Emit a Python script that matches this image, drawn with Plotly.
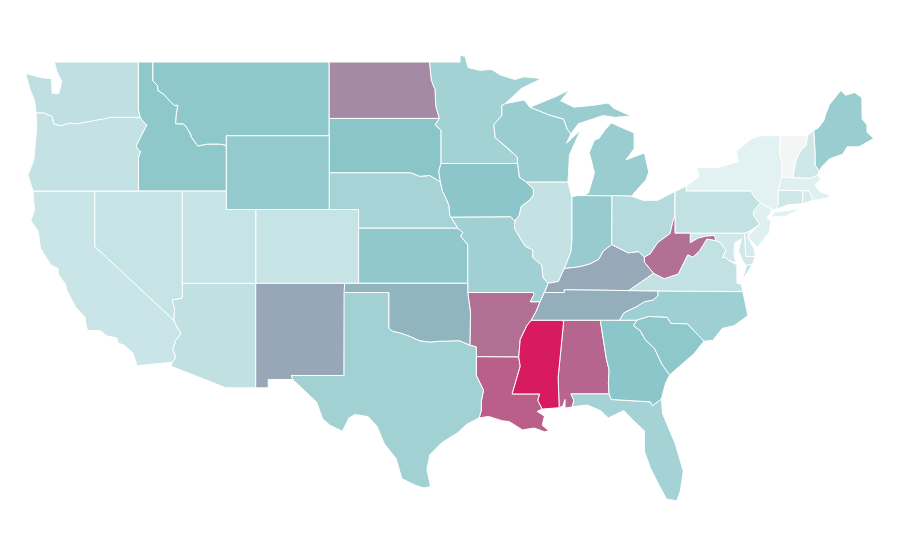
import plotly.graph_objects as go
from plotly.colors import sample_colorscale

# state codes and values
states = ['AL', 'AR', 'AZ', 'CA', 'CO', 'CT', 'DC', 'DE', 'FL', 'GA', 'IA', 'ID', 'IL', 'IN', 'KS', 'KY',
          'LA', 'MA', 'MD', 'ME', 'MI', 'MN', 'MO', 'MS', 'MT', 'NC', 'ND', 'NE', 'NH', 'NJ', 'NM', 'NV',
          'NY', 'OH', 'OK', 'OR', 'PA', 'RI', 'SC', 'SD', 'TN', 'TX', 'UT', 'VA', 'VT', 'WA', 'WI', 'WV', 'WY']
values = [74, 70.5, 18.5, 14.5, 16, 13, 12, 10, 29.5, 39.5, 39, 38, 17, 35, 37.5, 50,
          76, 6, 12, 34, 34, 30, 31, 100, 38, 32, 61, 28.5, 13, 6, 50.5, 16,
          5, 23, 45.5, 17, 18, 10, 38, 40, 48, 30.5, 16, 18, 0, 19, 34, 70, 36]

scale = [[0, '#f4f6f6'], [0.05, '#e2f1f2'], [0.4, '#8ac5c9'], [1, '#d81b60']]

# rough state outlines in lon/lat, no map file can be fetched offline (None starts another part)
outlines = {
    'WA': [(-124.0,46.25),(-124.1,46.9),(-124.4,47.5),(-124.72,48.38),(-123.6,48.15),(-122.95,48.1),(-122.9,47.3),(-122.45,47.3),(-122.25,47.95),(-122.6,48.5),(-122.75,49.0),(-117.04,49.0),(-117.04,46.42),(-116.92,46.0),(-119.0,46.0),(-119.3,45.93),(-119.9,45.85),(-120.6,45.75),(-121.2,45.65),(-121.7,45.7),(-122.3,45.55),(-122.8,45.65),(-122.9,46.05),(-123.2,46.15),(-123.5,46.25)],
    'OR': [(-124.2,42.0),(-124.55,42.85),(-124.15,43.7),(-124.05,44.7),(-123.95,45.5),(-124.0,46.25),(-123.5,46.25),(-123.2,46.15),(-122.9,46.05),(-122.8,45.65),(-122.3,45.55),(-121.7,45.7),(-121.2,45.65),(-120.6,45.75),(-119.9,45.85),(-119.3,45.93),(-119.0,46.0),(-116.92,46.0),(-116.7,45.75),(-116.46,45.6),(-116.67,45.25),(-116.85,45.0),(-117.2,44.45),(-117.05,44.25),(-116.9,44.15),(-117.03,43.83),(-117.03,42.0)],
    'CA': [(-124.2,42.0),(-120.0,42.0),(-120.0,39.0),(-114.63,35.0),(-114.45,34.7),(-114.15,34.27),(-114.5,33.9),(-114.7,33.4),(-114.5,33.0),(-114.72,32.72),(-117.12,32.53),(-117.25,32.85),(-117.4,33.2),(-118.0,33.65),(-118.4,33.75),(-118.5,34.03),(-119.2,34.15),(-119.6,34.42),(-120.5,34.45),(-120.65,34.9),(-120.65,35.15),(-121.3,35.7),(-121.9,36.6),(-122.0,36.95),(-122.5,37.5),(-122.5,37.8),(-123.0,38.0),(-123.7,38.9),(-123.85,39.8),(-124.35,40.4),(-124.1,41.0),(-124.2,41.75)],
    'NV': [(-120.0,42.0),(-114.05,42.0),(-114.05,36.2),(-114.75,36.1),(-114.57,35.6),(-114.63,35.0),(-120.0,39.0)],
    'ID': [(-117.04,49.0),(-116.05,49.0),(-116.05,48.0),(-115.72,47.7),(-115.7,47.45),(-115.3,47.25),(-114.95,46.93),(-114.6,46.65),(-114.35,46.65),(-114.45,46.2),(-114.5,45.65),(-114.0,45.65),(-113.8,45.52),(-113.45,45.05),(-113.45,44.95),(-113.0,44.45),(-112.3,44.55),(-111.5,44.55),(-111.05,44.48),(-111.05,42.0),(-117.03,42.0),(-117.03,43.83),(-116.9,44.15),(-117.05,44.25),(-117.2,44.45),(-116.85,45.0),(-116.67,45.25),(-116.46,45.6),(-116.7,45.75),(-116.92,46.0),(-117.04,46.42)],
    'MT': [(-116.05,49.0),(-104.05,49.0),(-104.05,45.0),(-111.05,45.0),(-111.05,44.48),(-111.5,44.55),(-112.3,44.55),(-113.0,44.45),(-113.45,44.95),(-113.45,45.05),(-113.8,45.52),(-114.0,45.65),(-114.5,45.65),(-114.45,46.2),(-114.35,46.65),(-114.6,46.65),(-114.95,46.93),(-115.3,47.25),(-115.7,47.45),(-115.72,47.7),(-116.05,48.0)],
    'WY': [(-111.05,45.0),(-104.05,45.0),(-104.05,41.0),(-111.05,41.0)],
    'UT': [(-114.05,42.0),(-111.05,42.0),(-111.05,41.0),(-109.05,41.0),(-109.05,37.0),(-114.05,37.0)],
    'CO': [(-109.05,41.0),(-102.05,41.0),(-102.05,37.0),(-109.05,37.0)],
    'AZ': [(-114.05,37.0),(-109.05,37.0),(-109.05,31.33),(-111.07,31.33),(-114.81,32.5),(-114.72,32.72),(-114.5,33.0),(-114.7,33.4),(-114.5,33.9),(-114.15,34.27),(-114.45,34.7),(-114.63,35.0),(-114.57,35.6),(-114.75,36.1),(-114.05,36.2)],
    'NM': [(-109.05,37.0),(-103.0,37.0),(-103.04,32.0),(-106.62,32.0),(-106.53,31.78),(-108.2,31.78),(-108.2,31.33),(-109.05,31.33)],
    'ND': [(-104.05,49.0),(-97.23,49.0),(-97.1,48.0),(-96.85,47.5),(-96.8,46.6),(-96.56,45.94),(-104.05,45.94)],
    'SD': [(-104.05,45.94),(-96.56,45.94),(-96.85,45.6),(-96.45,45.3),(-96.45,43.5),(-96.6,43.1),(-96.5,42.5),(-97.2,42.85),(-97.9,42.8),(-98.5,43.0),(-104.05,43.0)],
    'NE': [(-104.05,43.0),(-98.5,43.0),(-97.9,42.8),(-97.2,42.85),(-96.5,42.5),(-96.35,42.0),(-96.1,41.6),(-95.9,41.2),(-95.85,40.7),(-95.77,40.58),(-95.3,40.0),(-102.05,40.0),(-102.05,41.0),(-104.05,41.0)],
    'KS': [(-102.05,40.0),(-95.3,40.0),(-94.95,39.75),(-95.1,39.55),(-94.62,39.1),(-94.62,37.0),(-102.05,37.0)],
    'OK': [(-103.0,37.0),(-94.62,37.0),(-94.62,36.5),(-94.43,35.4),(-94.48,33.64),(-95.2,33.88),(-96.0,33.85),(-96.6,33.85),(-97.2,33.8),(-97.9,33.88),(-98.5,34.1),(-99.2,34.3),(-99.7,34.38),(-100.0,34.56),(-100.0,36.5),(-103.04,36.5)],
    'TX': [(-103.04,36.5),(-100.0,36.5),(-100.0,34.56),(-99.7,34.38),(-99.2,34.3),(-98.5,34.1),(-97.9,33.88),(-97.2,33.8),(-96.6,33.85),(-96.0,33.85),(-95.2,33.88),(-94.48,33.64),(-94.04,33.55),(-94.04,33.02),(-94.04,32.0),(-93.55,31.2),(-93.7,30.6),(-93.7,30.1),(-93.85,29.7),(-94.7,29.35),(-95.3,28.9),(-96.4,28.35),(-97.2,27.7),(-97.4,26.9),(-97.15,25.97),(-97.6,25.9),(-98.2,26.05),(-99.1,26.4),(-99.5,27.5),(-100.3,28.3),(-100.8,29.25),(-101.4,29.77),(-102.3,29.88),(-102.7,29.7),(-103.15,28.98),(-104.0,29.3),(-104.5,29.65),(-104.9,30.55),(-106.0,31.4),(-106.53,31.78),(-106.62,32.0),(-103.04,32.0)],
    'MN': [(-97.23,49.0),(-95.15,49.0),(-95.15,49.38),(-94.8,49.3),(-94.6,48.7),(-93.8,48.55),(-93.0,48.6),(-92.4,48.3),(-91.4,48.05),(-90.8,48.2),(-89.6,48.1),(-91.0,47.55),(-92.05,46.75),(-92.3,46.65),(-92.3,46.1),(-92.85,45.6),(-92.75,44.9),(-92.0,44.4),(-91.25,43.85),(-91.22,43.5),(-96.45,43.5),(-96.45,45.3),(-96.85,45.6),(-96.56,45.94),(-96.8,46.6),(-96.85,47.5),(-97.1,48.0)],
    'IA': [(-96.45,43.5),(-91.22,43.5),(-91.1,42.75),(-90.65,42.5),(-90.15,42.1),(-90.15,41.8),(-90.35,41.55),(-91.0,41.15),(-91.1,40.7),(-91.42,40.38),(-91.7,40.6),(-95.77,40.58),(-95.85,40.7),(-95.9,41.2),(-96.1,41.6),(-96.35,42.0),(-96.5,42.5),(-96.6,43.1)],
    'MO': [(-95.77,40.58),(-91.7,40.6),(-91.42,40.38),(-91.45,40.0),(-91.1,39.5),(-90.7,39.0),(-90.2,38.8),(-90.2,38.4),(-89.6,38.0),(-89.5,37.3),(-89.15,37.0),(-89.4,36.5),(-89.7,36.0),(-90.37,36.0),(-90.1,36.4),(-90.15,36.5),(-94.62,36.5),(-94.62,39.1),(-95.1,39.55),(-94.95,39.75),(-95.3,40.0)],
    'AR': [(-94.62,36.5),(-90.15,36.5),(-90.1,36.4),(-90.37,36.0),(-89.7,36.0),(-89.95,35.5),(-90.3,35.0),(-90.6,34.7),(-91.05,33.95),(-91.15,33.0),(-94.04,33.02),(-94.04,33.55),(-94.48,33.64),(-94.43,35.4)],
    'LA': [(-94.04,33.02),(-91.15,33.0),(-91.05,32.5),(-91.4,31.6),(-91.6,31.0),(-89.73,31.0),(-89.85,30.65),(-89.55,30.18),(-89.9,30.05),(-89.4,29.8),(-89.55,29.3),(-89.1,29.0),(-89.4,28.95),(-90.1,29.15),(-90.9,29.05),(-91.8,29.5),(-92.3,29.55),(-93.2,29.78),(-93.85,29.7),(-93.7,30.1),(-93.7,30.6),(-93.55,31.2),(-94.04,32.0)],
    'MS': [(-90.3,35.0),(-88.2,35.0),(-88.1,34.9),(-88.47,31.9),(-88.4,30.25),(-89.55,30.18),(-89.85,30.65),(-89.73,31.0),(-91.6,31.0),(-91.4,31.6),(-91.05,32.5),(-91.15,33.0),(-91.05,33.95),(-90.6,34.7)],
    'AL': [(-88.2,35.0),(-85.6,35.0),(-85.18,32.87),(-85.0,32.3),(-85.05,31.55),(-85.0,31.0),(-87.6,31.0),(-87.4,30.65),(-87.5,30.3),(-88.0,30.23),(-88.0,30.7),(-88.15,30.35),(-88.4,30.25),(-88.47,31.9),(-88.1,34.9)],
    'GA': [(-85.6,35.0),(-83.1,35.0),(-83.35,34.7),(-82.9,34.45),(-82.55,33.95),(-81.9,33.45),(-81.4,32.6),(-80.88,32.03),(-81.15,31.6),(-81.45,30.72),(-82.05,30.36),(-82.2,30.57),(-84.86,30.7),(-85.0,31.0),(-85.05,31.55),(-85.0,32.3),(-85.18,32.87)],
    'FL': [(-87.6,31.0),(-85.0,31.0),(-84.86,30.7),(-82.2,30.57),(-82.05,30.36),(-81.45,30.72),(-81.35,29.9),(-80.5,28.3),(-79.95,26.8),(-80.15,25.75),(-80.4,25.2),(-81.1,25.3),(-81.7,26.2),(-82.2,27.0),(-82.6,27.9),(-82.6,29.0),(-83.4,29.6),(-84.0,30.1),(-85.05,29.7),(-85.6,30.1),(-86.5,30.4),(-87.5,30.3),(-87.4,30.65)],
    'SC': [(-83.1,35.0),(-82.3,35.2),(-81.05,35.15),(-80.8,34.82),(-79.68,34.8),(-78.55,33.86),(-79.2,33.2),(-79.9,32.7),(-80.88,32.03),(-81.4,32.6),(-81.9,33.45),(-82.55,33.95),(-82.9,34.45),(-83.35,34.7)],
    'NC': [(-84.3,35.0),(-83.1,35.0),(-82.3,35.2),(-81.05,35.15),(-80.8,34.82),(-79.68,34.8),(-78.55,33.86),(-77.95,33.9),(-77.3,34.55),(-76.5,34.7),(-75.55,35.25),(-75.9,36.55),(-81.68,36.59),(-81.7,36.3),(-82.0,36.1),(-82.6,36.0),(-83.1,35.75),(-84.0,35.4)],
    'TN': [(-89.4,36.5),(-88.05,36.5),(-88.05,36.65),(-83.67,36.6),(-81.68,36.59),(-81.7,36.3),(-82.0,36.1),(-82.6,36.0),(-83.1,35.75),(-84.0,35.4),(-84.3,35.0),(-90.3,35.0),(-89.95,35.5),(-89.7,36.0)],
    'KY': [(-89.4,36.5),(-89.15,37.0),(-88.45,37.1),(-88.05,37.8),(-87.0,37.9),(-86.3,38.05),(-85.7,38.3),(-85.4,38.75),(-84.82,39.1),(-84.25,38.85),(-83.7,38.65),(-83.0,38.72),(-82.6,38.42),(-82.6,38.15),(-81.97,37.54),(-83.67,36.6),(-88.05,36.65),(-88.05,36.5)],
    'VA': [(-83.67,36.6),(-81.68,36.59),(-75.9,36.55),(-76.0,36.95),(-76.3,37.0),(-76.3,37.6),(-76.3,38.0),(-76.9,38.25),(-77.05,38.4),(-77.3,38.4),(-77.05,38.8),(-77.45,39.2),(-77.72,39.32),(-78.35,39.4),(-78.85,38.75),(-79.3,38.42),(-79.65,38.55),(-80.3,37.5),(-81.25,37.25),(-81.97,37.54),None,(-75.95,37.15),(-75.65,37.95),(-75.25,38.03)],
    'WV': [(-82.6,38.42),(-82.2,38.6),(-81.7,39.2),(-80.85,39.7),(-80.65,40.4),(-80.52,40.64),(-80.52,39.72),(-79.48,39.72),(-79.48,39.2),(-78.95,39.45),(-78.45,39.55),(-77.85,39.6),(-77.72,39.32),(-78.35,39.4),(-78.85,38.75),(-79.3,38.42),(-79.65,38.55),(-80.3,37.5),(-81.25,37.25),(-81.97,37.54),(-82.6,38.15)],
    'MD': [(-79.48,39.72),(-75.79,39.72),(-75.7,38.46),(-75.05,38.45),(-75.25,38.03),(-75.65,37.95),(-75.9,38.2),(-76.2,38.75),(-76.0,39.4),(-76.45,39.2),(-76.5,38.5),(-76.35,38.1),(-76.9,38.25),(-77.05,38.4),(-77.3,38.4),(-77.05,38.8),(-77.45,39.2),(-77.72,39.32),(-77.85,39.6),(-78.45,39.55),(-78.95,39.45),(-79.48,39.2)],
    'DE': [(-75.79,39.72),(-75.45,39.82),(-75.55,39.5),(-75.1,38.8),(-75.05,38.45),(-75.7,38.46)],
    'DC': [(-77.12,38.93),(-77.04,39.0),(-76.91,38.89),(-77.04,38.79)],
    'PA': [(-80.52,41.98),(-79.76,42.27),(-79.76,42.0),(-75.35,42.0),(-75.05,41.6),(-74.7,41.36),(-75.13,40.98),(-75.2,40.7),(-74.75,40.2),(-75.45,39.82),(-75.79,39.72),(-80.52,39.72)],
    'NJ': [(-74.7,41.36),(-73.9,41.0),(-74.25,40.5),(-73.98,40.4),(-74.1,39.75),(-74.9,38.95),(-75.55,39.5),(-75.45,39.65),(-74.75,40.2),(-75.2,40.7),(-75.13,40.98)],
    'NY': [(-79.76,42.27),(-79.0,42.7),(-78.9,42.9),(-79.05,43.27),(-77.6,43.27),(-76.5,43.5),(-76.2,43.6),(-76.35,44.15),(-75.3,44.85),(-74.7,45.0),(-73.35,45.0),(-73.4,44.0),(-73.25,43.6),(-73.28,42.75),(-73.5,42.05),(-73.5,41.3),(-73.65,41.0),(-73.9,41.0),(-74.7,41.36),(-75.05,41.6),(-75.35,42.0),(-79.76,42.0),None,(-74.0,40.6),(-73.75,40.85),(-72.6,40.98),(-71.9,41.07),(-73.0,40.62)],
    'VT': [(-73.35,45.0),(-71.5,45.0),(-71.6,44.5),(-72.05,44.1),(-72.3,43.6),(-72.45,43.0),(-72.46,42.73),(-73.28,42.75),(-73.25,43.6),(-73.4,44.0)],
    'NH': [(-71.5,45.0),(-71.08,45.3),(-71.0,44.3),(-70.98,43.4),(-70.7,43.07),(-70.82,42.87),(-71.3,42.7),(-72.46,42.73),(-72.45,43.0),(-72.3,43.6),(-72.05,44.1),(-71.6,44.5)],
    'ME': [(-71.08,45.3),(-70.8,45.4),(-70.4,45.8),(-70.25,46.2),(-70.0,46.7),(-69.23,47.46),(-68.9,47.2),(-68.3,47.35),(-67.8,47.07),(-67.78,45.9),(-67.45,45.6),(-67.45,45.2),(-67.0,44.85),(-68.0,44.4),(-68.8,44.4),(-69.1,44.0),(-70.0,43.75),(-70.55,43.3),(-70.7,43.07),(-70.98,43.4),(-71.0,44.3)],
    'MA': [(-73.28,42.75),(-71.3,42.7),(-70.82,42.87),(-70.6,42.65),(-71.0,42.3),(-70.6,41.95),(-70.05,41.8),(-70.0,41.65),(-70.65,41.55),(-71.12,41.5),(-71.38,42.02),(-71.8,42.02),(-73.5,42.05)],
    'CT': [(-73.5,42.05),(-71.8,42.02),(-71.85,41.32),(-72.9,41.25),(-73.65,41.0),(-73.5,41.3)],
    'RI': [(-71.8,42.02),(-71.38,42.02),(-71.12,41.5),(-71.85,41.32)],
    'OH': [(-84.8,41.76),(-83.45,41.72),(-82.7,41.5),(-81.7,41.5),(-80.52,41.98),(-80.52,40.64),(-80.65,40.4),(-80.85,39.7),(-81.7,39.2),(-82.2,38.6),(-82.6,38.42),(-83.0,38.72),(-83.7,38.65),(-84.25,38.85),(-84.82,39.1)],
    'IN': [(-87.53,41.7),(-87.2,41.75),(-86.8,41.76),(-84.8,41.76),(-84.82,39.1),(-85.4,38.75),(-85.7,38.3),(-86.3,38.05),(-87.0,37.9),(-88.05,37.8),(-87.6,38.7),(-87.53,39.35)],
    'IL': [(-90.65,42.5),(-87.8,42.5),(-87.6,41.85),(-87.53,41.7),(-87.53,39.35),(-87.6,38.7),(-88.05,37.8),(-88.45,37.1),(-89.15,37.0),(-89.5,37.3),(-89.6,38.0),(-90.2,38.4),(-90.2,38.8),(-90.7,39.0),(-91.1,39.5),(-91.45,40.0),(-91.42,40.38),(-91.1,40.7),(-91.0,41.15),(-90.35,41.55),(-90.15,41.8),(-90.15,42.1)],
    'MI': [(-86.8,41.76),(-84.8,41.76),(-83.45,41.72),(-83.3,41.9),(-82.5,42.6),(-82.3,43.03),(-82.6,44.07),(-83.85,43.7),(-83.3,44.3),(-83.3,45.15),(-84.85,45.7),(-85.3,45.3),(-85.7,44.85),(-86.0,44.77),(-86.35,44.1),(-86.0,43.0),(-86.4,41.9),None,(-90.4,46.55),(-90.0,46.67),(-88.7,47.1),(-87.7,47.48),(-88.3,46.9),(-87.4,46.55),(-86.1,46.65),(-85.05,46.78),(-84.7,46.5),(-83.5,46.07),(-84.65,46.0),(-85.4,46.1),(-86.4,45.85),(-87.1,45.65),(-87.6,45.1),(-87.85,45.35),(-88.1,45.9),(-89.1,46.13)],
    'WI': [(-92.05,46.75),(-90.77,46.94),(-90.4,46.55),(-89.1,46.13),(-88.1,45.9),(-87.85,45.35),(-87.6,45.1),(-87.9,44.6),(-86.95,45.3),(-87.7,43.96),(-87.75,43.2),(-87.8,42.5),(-90.65,42.5),(-91.1,42.75),(-91.22,43.5),(-91.25,43.85),(-92.0,44.4),(-92.75,44.9),(-92.85,45.6),(-92.3,46.1),(-92.3,46.65)],
}


def close_parts(points):
    # repeat the first vertex of every part so that the white border closes
    xs, ys, start = [], [], None
    for p in points + [None]:
        if p is None:
            xs += [start[0], None]
            ys += [start[1], None]
            start = None
        else:
            start = start or p
            xs.append(p[0])
            ys.append(p[1])
    return xs, ys


fig = go.Figure()
for state, value in zip(states, values):
    xs, ys = close_parts(outlines[state])
    fig.add_trace(go.Scatter(
        x=xs,
        y=ys,
        name=state,
        mode='lines',
        fill='toself',
        fillcolor=sample_colorscale(scale, value / 100)[0],
        line=dict(color='white', width=1),
        hoverinfo='name',
    ))

# ranges shifted by the 8px body margin of the page
fig.update_xaxes(visible=False, range=[-125.91, -64.66])
fig.update_yaxes(visible=False, range=[21.56, 51.93])
fig.update_layout(width=900, height=560, margin=dict(l=0, r=0, t=0, b=0),
                  showlegend=False, paper_bgcolor='white', plot_bgcolor='white')

fig.write_html("out.html")
